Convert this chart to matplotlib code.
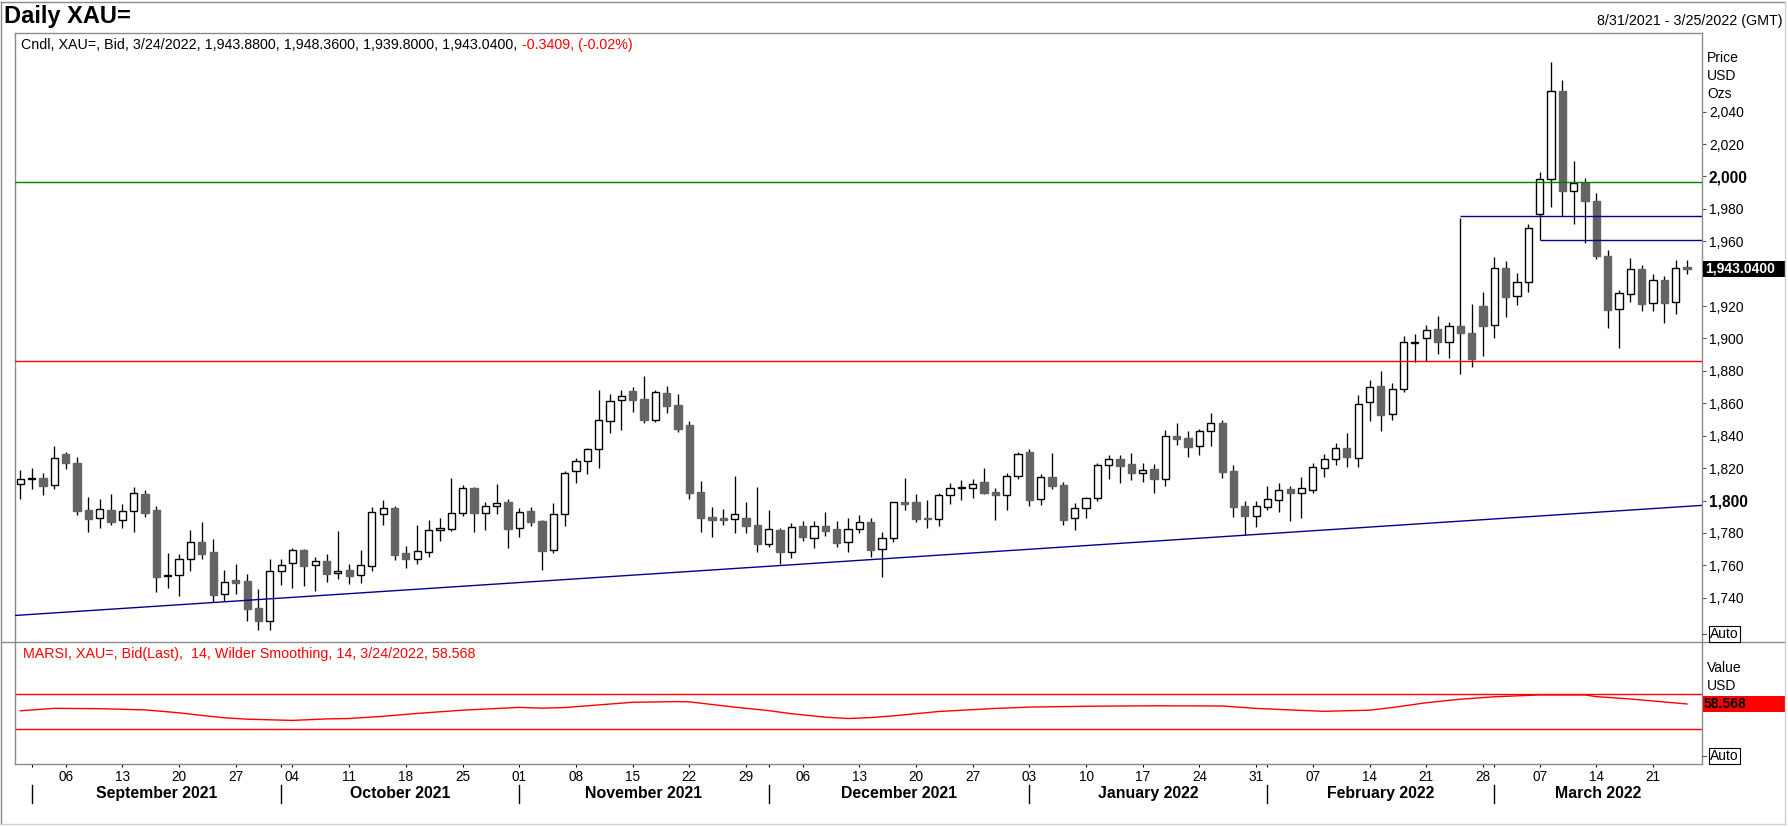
import matplotlib
matplotlib.use('Agg')
import matplotlib.pyplot as plt
from matplotlib.patches import Rectangle
from matplotlib.lines import Line2D
import matplotlib.transforms as mtransforms
import numpy as np
import pandas as pd

plt.rcParams['font.family'] = ['Liberation Sans', 'DejaVu Sans']

# ---------------- data ----------------
dates = pd.bdate_range('2021-08-31', '2022-03-24')

opens = [1810.0, 1813.1, 1813.7, 1809.3, 1828.7, 1823.1, 1794.1, 1789.0, 1794.1, 1787.8,
         1793.3, 1803.8, 1794.1, 1753.3, 1753.8, 1763.7, 1774.4, 1768.2, 1742.1, 1750.9,
         1750.3, 1733.6, 1725.8, 1756.3, 1761.2, 1769.4, 1760.0, 1762.6, 1755.0, 1756.9,
         1753.8, 1759.4, 1791.9, 1795.4, 1767.6, 1764.1, 1768.4, 1781.6, 1782.2, 1792.5,
         1807.5, 1792.5, 1796.4, 1799.1, 1782.8, 1793.5, 1787.3, 1769.2, 1791.5, 1818.0,
         1824.1, 1831.5, 1848.8, 1861.8, 1867.6, 1862.6, 1849.9, 1866.3, 1858.9, 1846.5,
         1805.2, 1789.6, 1789.2, 1788.4, 1789.2, 1784.9, 1772.9, 1781.8, 1768.0, 1784.3,
         1776.6, 1784.3, 1782.4, 1774.2, 1782.2, 1786.7, 1769.9, 1776.6, 1799.1, 1798.9,
         1789.2, 1788.6, 1803.2, 1807.5, 1807.5, 1811.2, 1805.2, 1803.2, 1814.9, 1829.9,
         1800.7, 1814.3, 1809.3, 1789.0, 1795.2, 1801.3, 1821.7, 1825.4, 1822.5, 1817.2,
         1819.4, 1813.0, 1839.6, 1838.5, 1833.8, 1842.7, 1847.8, 1818.2, 1796.6, 1790.2,
         1795.8, 1800.1, 1807.1, 1804.4, 1806.3, 1819.8, 1825.4, 1832.2, 1826.0, 1860.5,
         1870.4, 1853.1, 1868.6, 1897.4, 1900.0, 1905.6, 1898.0, 1907.4, 1903.3, 1919.8,
         1908.3, 1943.3, 1926.2, 1935.0, 1976.6, 1998.2, 2052.7, 1991.2, 1996.1, 1984.8,
         1950.8, 1917.9, 1927.4, 1943.0, 1921.6, 1936.1, 1922.3, 1943.88]
highs = [1818.8, 1819.8, 1816.8, 1833.6, 1830.1, 1826.8, 1802.1, 1800.9, 1804.0, 1797.8,
         1808.1, 1806.5, 1796.6, 1767.4, 1767.0, 1781.8, 1786.7, 1776.2, 1757.1, 1760.8,
         1754.6, 1745.4, 1763.9, 1763.9, 1770.7, 1770.3, 1765.1, 1766.8, 1781.2, 1760.6,
         1769.4, 1795.8, 1800.3, 1796.6, 1771.9, 1784.9, 1788.0, 1789.2, 1813.9, 1809.6,
         1808.1, 1799.1, 1810.2, 1800.9, 1795.4, 1796.0, 1788.0, 1798.4, 1818.4, 1826.2,
         1832.4, 1868.2, 1865.7, 1868.2, 1870.0, 1876.8, 1868.2, 1870.6, 1865.7, 1849.0,
         1812.0, 1796.0, 1794.7, 1815.1, 1799.1, 1808.3, 1794.1, 1783.0, 1786.3, 1787.5,
         1787.3, 1792.9, 1787.3, 1789.2, 1791.0, 1789.2, 1780.6, 1799.3, 1813.9, 1804.0,
         1800.3, 1804.4, 1810.6, 1812.6, 1813.3, 1820.0, 1807.7, 1816.8, 1829.9, 1831.8,
         1816.3, 1829.3, 1811.4, 1798.4, 1802.3, 1823.1, 1828.1, 1828.1, 1829.3, 1823.1,
         1822.5, 1843.5, 1847.8, 1842.9, 1844.1, 1854.2, 1849.7, 1821.9, 1799.7, 1799.7,
         1808.9, 1810.8, 1808.9, 1814.5, 1823.3, 1828.7, 1835.3, 1841.4, 1865.1, 1874.3,
         1880.1, 1872.4, 1901.3, 1902.7, 1908.1, 1913.8, 1910.3, 1974.5, 1921.2, 1928.8,
         1950.0, 1947.8, 1940.6, 1970.6, 2002.7, 2070.6, 2059.5, 2009.5, 1998.8, 1990.0,
         1954.6, 1929.9, 1949.8, 1945.3, 1939.8, 1938.5, 1948.4, 1948.36]
lows = [1800.7, 1807.3, 1803.6, 1807.3, 1819.6, 1791.0, 1780.8, 1783.2, 1785.1, 1783.2,
        1780.8, 1789.6, 1743.7, 1746.2, 1741.3, 1756.7, 1764.1, 1737.3, 1738.0, 1742.5,
        1725.8, 1720.3, 1720.3, 1748.0, 1746.2, 1747.4, 1744.3, 1749.9, 1751.7, 1748.7,
        1749.3, 1756.7, 1785.1, 1763.3, 1758.5, 1761.0, 1765.3, 1775.2, 1781.4, 1790.4,
        1780.8, 1781.8, 1791.7, 1770.9, 1777.7, 1784.3, 1757.1, 1767.6, 1784.5, 1811.0,
        1816.3, 1820.3, 1841.8, 1843.7, 1854.8, 1848.0, 1848.6, 1854.2, 1842.4, 1801.1,
        1780.7, 1777.7, 1785.1, 1780.1, 1780.1, 1768.4, 1771.1, 1760.8, 1764.7, 1775.2,
        1770.9, 1778.1, 1771.5, 1768.4, 1780.1, 1765.3, 1753.0, 1774.6, 1794.3, 1786.7,
        1783.2, 1784.5, 1798.0, 1800.5, 1801.7, 1803.8, 1788.2, 1794.3, 1813.5, 1796.8,
        1797.4, 1807.3, 1785.1, 1782.0, 1789.4, 1799.5, 1813.0, 1811.0, 1812.6, 1811.4,
        1804.6, 1808.9, 1834.4, 1826.8, 1828.1, 1833.6, 1814.1, 1790.0, 1778.7, 1783.8,
        1794.3, 1793.1, 1787.5, 1789.4, 1804.4, 1814.3, 1821.9, 1820.4, 1820.4, 1849.2,
        1843.1, 1849.4, 1866.7, 1885.2, 1886.0, 1890.6, 1888.1, 1878.2, 1882.6, 1889.4,
        1900.0, 1913.4, 1920.6, 1928.8, 1960.7, 1980.9, 1975.5, 1970.4, 1958.7, 1949.2,
        1906.2, 1894.3, 1922.7, 1917.1, 1917.1, 1909.7, 1914.9, 1939.80]
closes = [1813.1, 1813.6, 1809.1, 1826.0, 1822.9, 1793.7, 1788.8, 1794.7, 1786.9, 1793.3,
          1804.4, 1792.5, 1753.0, 1753.8, 1763.7, 1774.2, 1767.2, 1741.9, 1749.5, 1749.3,
          1733.2, 1725.8, 1756.3, 1760.0, 1769.2, 1759.8, 1762.4, 1754.8, 1756.3, 1753.6,
          1760.0, 1792.7, 1795.2, 1766.4, 1764.1, 1768.6, 1781.6, 1783.0, 1792.1, 1807.5,
          1792.5, 1796.4, 1798.2, 1782.6, 1792.7, 1786.9, 1769.0, 1791.5, 1817.0, 1824.1,
          1831.5, 1849.4, 1861.2, 1864.3, 1862.2, 1849.9, 1866.7, 1858.1, 1844.3, 1804.8,
          1789.4, 1788.2, 1788.2, 1791.6, 1784.4, 1773.4, 1782.2, 1768.4, 1783.4, 1777.7,
          1784.0, 1781.4, 1774.0, 1782.2, 1786.5, 1769.7, 1776.6, 1798.9, 1797.6, 1788.8,
          1788.4, 1803.2, 1807.5, 1808.1, 1810.4, 1804.8, 1803.6, 1814.9, 1828.5, 1800.5,
          1814.3, 1809.1, 1788.2, 1795.2, 1801.3, 1821.7, 1825.4, 1821.5, 1817.2, 1818.6,
          1813.3, 1839.6, 1837.9, 1833.0, 1842.7, 1847.8, 1817.8, 1796.2, 1790.6, 1796.4,
          1800.9, 1806.3, 1804.4, 1807.5, 1820.4, 1825.4, 1832.2, 1826.6, 1859.7, 1870.2,
          1852.9, 1868.6, 1897.6, 1897.8, 1905.4, 1898.0, 1907.4, 1903.1, 1887.5, 1907.8,
          1943.3, 1925.7, 1935.0, 1968.3, 1998.2, 2052.7, 1991.2, 1996.1, 1985.0, 1950.8,
          1917.5, 1927.8, 1942.6, 1921.0, 1936.1, 1921.6, 1943.3, 1943.04]

last_change = -0.3409
last_change_pct = -0.02

resistance_level = 1996.3     # green
support_level = 1886.1        # red
blue_levels = [1975.3, 1960.7]
blue_level_starts = ['2022-02-24', '2022-03-07']
trend_points = [('2021-08-31', 1729.3), ('2022-03-24', 1796.4)]

rsi_dates = ['2021-08-31', '2021-09-03', '2021-09-09', '2021-09-15', '2021-09-20', '2021-09-22',
             '2021-09-24', '2021-09-28', '2021-10-04', '2021-10-07', '2021-10-11', '2021-10-14',
             '2021-10-19', '2021-10-25', '2021-11-01', '2021-11-03', '2021-11-05', '2021-11-10',
             '2021-11-15', '2021-11-19', '2021-11-22', '2021-11-24', '2021-11-26', '2021-12-01',
             '2021-12-03', '2021-12-08', '2021-12-10', '2021-12-14', '2021-12-16', '2021-12-22',
             '2021-12-29', '2022-01-03', '2022-01-10', '2022-01-18', '2022-01-26', '2022-01-31',
             '2022-02-03', '2022-02-08', '2022-02-14', '2022-02-16', '2022-02-21', '2022-02-24',
             '2022-03-01', '2022-03-07', '2022-03-11', '2022-03-14', '2022-03-17', '2022-03-21',
             '2022-03-24']
rsi_values = [50.8, 53.6, 53.2, 51.8, 48.5, 45.5, 42.8, 41.2, 39.8, 41.5, 42.0, 44.5,
              47.8, 51.5, 54.7, 53.8, 54.5, 57.5, 60.5, 61.3, 61.0, 58.0, 55.0, 51.0,
              47.5, 43.5, 42.0, 43.0, 45.0, 50.0, 53.5, 55.0, 56.0, 56.5, 56.3, 53.5,
              51.8, 50.2, 51.5, 54.5, 60.0, 64.0, 66.8, 68.9, 68.9, 67.0, 64.3, 62.0,
              58.568]
rsi_upper, rsi_lower = 70, 30
rsi_period, rsi_smooth = 14, 14

price_ticks = list(range(1740, 2041, 20))
bold_ticks = [1800, 2000]

# ---------------- layout helpers ----------------
W, H, DPI = 1788, 827, 100
fig = plt.figure(figsize=(W / DPI, H / DPI), dpi=DPI)
fig.patch.set_facecolor('white')

def fx(px):
    return px / W

def fy(py):
    return 1 - py / H

L, R = 15.3, 1701.7
T1, B1, B2 = 33, 642, 764
FRAME = '#8c8c8c'
GRAY = '#646464'

ax = fig.add_axes([fx(L), fy(B1), fx(R) - fx(L), fy(T1) - fy(B1)])
ax2 = fig.add_axes([fx(L), fy(B2), fx(R) - fx(L), fy(B1) - fy(B2)])

n = len(dates)
xs = np.arange(n)
XMIN, XMAX = -0.45, 148.3
for a in (ax, ax2):
    a.set_xlim(XMIN, XMAX)
    a.set_facecolor('white')
    for s in a.spines.values():
        s.set_color(FRAME)
        s.set_linewidth(1.0)
ax.spines['bottom'].set_visible(False)
ax2.spines['top'].set_visible(False)
ax.set_ylim(1712.7, 2088.5)
ax2.set_ylim(-10, 129.4)

# ---------------- candles ----------------
bw = 0.64
for i in range(n):
    o, h, l, c = opens[i], highs[i], lows[i], closes[i]
    up = c >= o
    ax.vlines(xs[i], l, h, color='black', lw=0.95, zorder=2)
    bottom = min(o, c)
    height = max(abs(c - o), 0.4)
    if up:
        fc, ec = 'white', 'black'
    else:
        fc, ec = GRAY, GRAY
    ax.add_patch(Rectangle((xs[i] - bw / 2, bottom), bw, height, facecolor=fc,
                           edgecolor=ec, lw=1.0, zorder=3))

# ---------------- level lines ----------------
ax.axhline(resistance_level, color='#008000', lw=1.0, zorder=4)
ax.axhline(support_level, color='#ff0000', lw=1.0, zorder=4)
for lvl, st in zip(blue_levels, blue_level_starts):
    i0 = dates.get_loc(pd.Timestamp(st))
    ax.hlines(lvl, i0, XMAX, color='#00008f', lw=1.0, zorder=4)
(d0, p0), (d1, p1) = trend_points
ax.axline((dates.get_loc(pd.Timestamp(d0)), p0), (dates.get_loc(pd.Timestamp(d1)), p1),
          color='#00008f', lw=1.0, zorder=4)

# ---------------- right price axis ----------------
last_close = closes[-1]
ax.yaxis.tick_right()
ax.set_yticks(price_ticks)
# the label hidden behind the last-price box is left blank
ax.set_yticklabels(['' if abs(v - last_close) < 8 else f'{v:,}' for v in price_ticks])
ax.tick_params(axis='y', direction='out', length=2.9, width=0.8, color='#555555',
               pad=2.2, labelsize=10, labelcolor='black')
for lab, v in zip(ax.get_yticklabels(), price_ticks):
    if v in bold_ticks:
        lab.set_fontweight('bold')
        lab.set_fontsize(11.2)
ax.tick_params(axis='x', which='both', bottom=False, labelbottom=False)

blend_main = mtransforms.blended_transform_factory(fig.transFigure, ax.transData)
box_h = 15.7 / 1.6206
ax.add_patch(Rectangle((fx(1703), last_close - box_h / 2), fx(82), box_h, transform=blend_main,
                       facecolor='black', edgecolor='none', clip_on=False, zorder=10))
ax.text(fx(1705), last_close, f'{last_close:,.4f}', transform=blend_main, color='white',
        fontweight='bold', fontsize=10, va='center', ha='left', clip_on=False, zorder=11)

# ---------------- RSI panel ----------------
rsi_x = [dates.get_loc(pd.Timestamp(d)) for d in rsi_dates]
ax2.plot(rsi_x, rsi_values, color='#ff0000', lw=1.0, zorder=3)
ax2.axhline(rsi_upper, color='#ff0000', lw=1.0)
ax2.axhline(rsi_lower, color='#ff0000', lw=1.0)
ax2.set_yticks([])

blend_rsi = mtransforms.blended_transform_factory(fig.transFigure, ax2.transData)
rsi_last = rsi_values[-1]
rbox_h = 15.7 / 0.875
ax2.add_patch(Rectangle((fx(1703), rsi_last - rbox_h / 2), fx(82), rbox_h, transform=blend_rsi,
                        facecolor='#ff0000', edgecolor='none', clip_on=False, zorder=10))
ax2.text(fx(1704), rsi_last, f'{rsi_last:.3f}', transform=blend_rsi, color='black',
         fontweight='bold', fontsize=10, va='center', ha='left', clip_on=False, zorder=11)

# x axis: Monday ticks + month-start ticks
mondays = [i for i, d in enumerate(dates) if d.weekday() == 0]
month_starts = [i for i in range(1, n) if dates[i].month != dates[i - 1].month]
ax2.set_xticks(mondays)
ax2.set_xticklabels([])
ax2.set_xticks(month_starts, minor=True)
ax2.tick_params(axis='x', which='both', direction='out', length=2.2, width=0.8,
                color='black')
blend_x = mtransforms.blended_transform_factory(ax2.transData, fig.transFigure)
for i in mondays:
    ax2.text(i, fy(777), f'{dates[i].day:02d}', transform=blend_x, ha='center', va='center',
             fontsize=9.8, clip_on=False)
bounds = month_starts + [XMAX]
for k, i in enumerate(month_starts):
    ax2.add_line(Line2D([i, i], [fy(785), fy(803)], transform=blend_x, color='black',
                        lw=1.0, clip_on=False))
    cx = (i + bounds[k + 1]) / 2
    ax2.text(cx, fy(793.5), dates[i].strftime('%B %Y'), transform=blend_x, ha='center',
             va='center', fontsize=11.4, fontweight='bold', clip_on=False)

# ---------------- frame & separators ----------------
def fline(x0, y0, x1, y1, color=FRAME, lw=1.0):
    fig.add_artist(Line2D([fx(x0), fx(x1)], [fy(y0), fy(y1)], transform=fig.transFigure,
                          color=color, lw=lw))

fline(1.4, B1, 1785, B1)
fline(1.4, 1.5, 1785, 1.5, color='#8a8a8a')
fline(1.4, 1.5, 1.4, 824, color='#8a8a8a')
fline(1785, 1.5, 1785, 824, color='#d0d0d0')
fline(1.4, 824, 1785, 824, color='#d0d0d0')

for yy in (633.7, 756):
    fline(1702, yy, 1706, yy, color='#555555', lw=0.8)
    fig.text(fx(1710), fy(yy), 'Auto', fontsize=10, va='center', ha='left',
             bbox=dict(boxstyle='square,pad=0.08', fc='white', ec='black', lw=0.8))

for txt, yy in (('Price', 58.3), ('USD', 76), ('Ozs', 94)):
    fig.text(fx(1707), fy(yy), txt, fontsize=10, va='center', ha='left')
for txt, yy in (('Value', 668.3), ('USD', 686)):
    fig.text(fx(1707), fy(yy), txt, fontsize=10, va='center', ha='left')

# ---------------- titles and legends ----------------
fig.text(fx(4), fy(16.5), 'Daily XAU=', fontsize=17, fontweight='bold', va='center', ha='left')
fig.text(fx(1783), fy(20.7), f"{dates[0].month}/{dates[0].day}/{dates[0].year} - 3/25/2022 (GMT)",
         fontsize=10.3, va='center', ha='right')

last_date = f"{dates[-1].month}/{dates[-1].day}/{dates[-1].year}"
legend_black = (f'Cndl, XAU=, Bid, {last_date}, {opens[-1]:,.4f}, {highs[-1]:,.4f}, '
                f'{lows[-1]:,.4f}, {closes[-1]:,.4f}, ')
legend_red = f'{last_change:.4f}, ({last_change_pct:.2f}%)'
t1 = fig.text(fx(21.4), fy(45), legend_black, fontsize=10.3, va='center', ha='left')
renderer = fig.canvas.get_renderer()
bb = t1.get_window_extent(renderer=renderer)
fig.text(bb.x1 / W, fy(45), legend_red, fontsize=10.3, va='center', ha='left', color='#ff0000')

fig.text(fx(23), fy(654),
         f'MARSI, XAU=, Bid(Last),  {rsi_period}, Wilder Smoothing, {rsi_smooth}, {last_date}, {rsi_last:.3f}',
         fontsize=10.3, va='center', ha='left', color='#ff0000')

fig.savefig('out.png', dpi=DPI, facecolor='white')
